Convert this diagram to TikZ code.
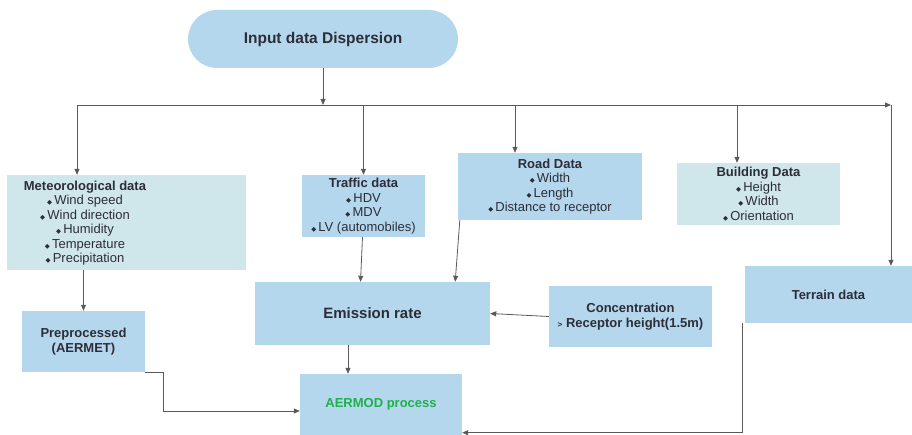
\documentclass[tikz,border=0pt]{standalone}
\usepackage{fontspec}
\setmainfont{Liberation Sans}
\newfontfamily\symfont{DejaVu Sans}
\usetikzlibrary{arrows.meta,positioning}

\definecolor{boxblue}{RGB}{180,215,238}
\definecolor{boxcyan}{RGB}{207,230,234}
\definecolor{linegray}{RGB}{90,90,90}
\definecolor{textdark}{RGB}{45,45,55}
\definecolor{aermodgreen}{RGB}{30,176,75}

% small diamond bullet in front of each item
\newcommand{\bul}{{\symfont\fontsize{6.5}{6.5}\selectfont ◆}\,}

\begin{document}
\begin{tikzpicture}[
	x = 1pt, y = -1pt, % pixel coordinates of the layout
	> = {Triangle[length=6pt, width=5pt]}, % arrow head style
	line/.style={draw=linegray, line width=0.8pt},
	bluebox/.style={rectangle, fill=boxblue, inner sep=2pt, align=center, text=textdark, font=\fontsize{13}{14.5}\selectfont},
	cyanbox/.style={rectangle, fill=boxcyan, inner sep=2pt, align=center, text=textdark, font=\fontsize{13}{14.5}\selectfont},
	boxtext/.style={align=center, inner sep=0pt, text=textdark, font=\fontsize{13}{14.5}\selectfont},
	startpill/.style={rectangle, rounded corners=29pt, fill=boxblue, minimum width=270pt, minimum height=58pt, text=textdark, font=\fontsize{15.5}{17}\selectfont\bfseries},
	]
	\clip (0,0) rectangle (912,435);

	% Nodes and their positions
	\node[startpill] (start) at (323,39) {Input data Dispersion};
	\coordinate (busL) at (77,105);
	\coordinate (busR) at (891,105);

	\node[cyanbox, minimum width=239pt, minimum height=95pt] (met) at (126.5,222.5) {};
	\node[boxtext] (metText) at (85,223) {\textbf{Meteorological data}\\ \bul Wind speed\\ \bul Wind direction\\ \bul Humidity\\ \bul Temperature\\ \bul Precipitation};
	\node[bluebox, minimum width=123pt, minimum height=62pt] (traffic) at (363.5,206) {\textbf{Traffic data}\\ \bul HDV\\ \bul MDV\\ \bul LV (automobiles)};
	\node[bluebox, minimum width=184pt, minimum height=67pt] (road) at (550,186.5) {\textbf{Road Data}\\ \bul Width\\ \bul Length\\ \bul Distance to receptor};
	\node[cyanbox, minimum width=163pt, minimum height=62pt] (building) at (758.5,194) {\textbf{Building Data}\\ \bul Height\\ \bul Width\\ \bul Orientation};

	\node[bluebox, minimum width=123pt, minimum height=61pt] (prep) at (83.5,341.5) {\textbf{Preprocessed}\\ \textbf{(AERMET)}};
	\node[bluebox, minimum width=235pt, minimum height=63pt, font=\fontsize{15}{17}\selectfont\bfseries] (emission) at (372.5,313.5) {Emission rate};
	\node[bluebox, minimum width=163pt, minimum height=61pt, font=\fontsize{13}{14.5}\selectfont\bfseries] (conc) at (630.5,316.5) {Concentration\\ {\fontsize{8}{8}\selectfont >} Receptor height(1.5m)};
	\node[bluebox, minimum width=167pt, minimum height=57pt, font=\fontsize{13}{14.5}\selectfont\bfseries] (terrain) at (828.5,294.5) {Terrain data};
	\node[bluebox, minimum width=162pt, minimum height=61pt, text=aermodgreen, font=\fontsize{13}{14.5}\selectfont\bfseries] (aermod) at (381,404.5) {AERMOD process};

	% Paths connecting nodes
	\draw[line, ->] (start.south) -- (start.south |- busL);
	\draw[line, ->] (busL) -- (busR);
	\draw[line, ->] (busR) -- (busR |- terrain.north);
	\draw[line, ->] (busL) -- (busL |- met.north);
	\draw[line, ->] (traffic.north |- busL) -- (traffic.north);
	\draw[line, ->] ([xshift=-35pt]road.north |- busL) -- ([xshift=-35pt]road.north);
	\draw[line, ->] ([xshift=-21.5pt]building.north |- busL) -- ([xshift=-21.5pt]building.north);

	\draw[line, ->] (prep.north |- met.south) -- (prep.north);
	\draw[line, ->] ([xshift=-1pt]traffic.south) -- ([xshift=-3pt]emission.north -| traffic.south);
	\draw[line, ->] ([xshift=2pt]road.south west) -- ([xshift=-35pt]emission.north east);
	\draw[line, ->] (conc.west) -- (emission.east);
	\draw[line, ->] ([xshift=-24.5pt]emission.south) -- ([xshift=-24.5pt]emission.south |- aermod.north);
	\draw[line, ->] (prep.south east) -- ++(18,0) |- ([yshift=-6.5pt]aermod.west);
	\draw[line, ->] ([xshift=-2pt]terrain.south west) |- ([yshift=2.5pt]aermod.south east);
\end{tikzpicture}
\end{document}
